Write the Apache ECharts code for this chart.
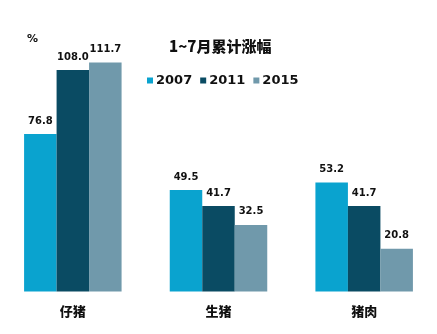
<!DOCTYPE html>
<html>
<head>
<meta charset="utf-8">
<script src="https://cdn.jsdelivr.net/npm/echarts@6/dist/echarts.min.js"></script>
<style>
  html, body { margin: 0; padding: 0; background: #ffffff; }
  #chart { width: 437px; height: 334px; }
</style>
</head>
<body>
<div id="chart"></div>
<script>
// Categories and cumulative increase (%) for Jan–Jul
const categories = ['仔猪', '生猪', '猪肉'];
const years = ['2007', '2011', '2015'];
const values2007 = [76.8, 49.5, 53.2];
const values2011 = [108.0, 41.7, 41.7];
const values2015 = [111.7, 32.5, 20.8];

const colors = ['#0aa3cf', '#0a4b63', '#7099ab'];
const seriesData = [values2007, values2011, values2015];
const FONT = '"DejaVu Sans", "Noto Sans CJK SC", sans-serif';
const CJK = '"Noto Sans CJK SC", sans-serif';

const chart = echarts.init(document.getElementById('chart'));

chart.setOption({
  animation: false,
  backgroundColor: '#ffffff',
  title: {
    text: '1~7月累计涨幅',
    left: 164,
    top: 34,
    textStyle: { fontFamily: CJK, fontSize: 15, fontWeight: 900, color: '#111' }
  },
  graphic: [{
    type: 'text',
    left: 27,
    top: 34,
    style: { text: '%', font: 'bold 11px "DejaVu Sans", sans-serif', fill: '#111' }
  }],
  legend: {
    data: years,
    left: 142,
    top: 69,
    icon: 'rect',
    itemWidth: 6,
    itemHeight: 6,
    itemGap: 8,
    textStyle: { fontFamily: FONT, fontSize: 13, fontWeight: 'bold', color: '#111', padding: [0, 0, 0, -2] }
  },
  grid: { left: -3, right: 0, top: 45.5, bottom: 42.5 },
  xAxis: {
    type: 'category',
    data: categories,
    axisLine: { show: false },
    axisTick: { show: false },
    axisLabel: { margin: 13, fontFamily: CJK, fontSize: 13, fontWeight: 900, color: '#111' }
  },
  yAxis: {
    type: 'value',
    min: 0,
    max: 120,
    show: false,
    splitLine: { show: false }
  },
  series: years.map((y, i) => ({
    name: y,
    type: 'bar',
    data: seriesData[i],
    barWidth: 32.5,
    barGap: '0%',
    itemStyle: { color: colors[i] },
    label: {
      show: true,
      position: 'top',
      distance: 8,
      formatter: p => p.value.toFixed(1),
      fontFamily: FONT,
      fontSize: 10,
      fontWeight: 'bold',
      color: '#111'
    }
  }))
});
</script>
</body>
</html>
